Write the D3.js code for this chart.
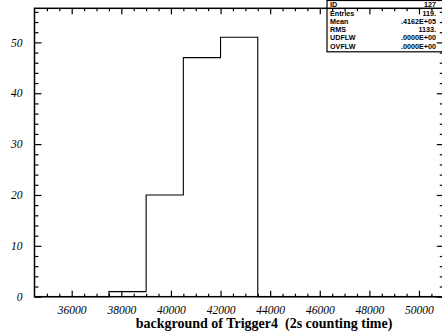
<!DOCTYPE html>
<html>
<head>
<meta charset="utf-8">
<script src="https://cdn.jsdelivr.net/npm/d3@7"></script>
<style>
  html, body { margin: 0; padding: 0; background: #fff; }
  svg { display: block; }
  text { fill: #000; -webkit-font-smoothing: antialiased; }
</style>
</head>
<body>
<svg id="chart" width="442" height="332"></svg>
<script>
// Histogram binning: 11 bins of width 1500 from 34500 to 51000
const binEdges = [34500, 36000, 37500, 39000, 40500, 42000, 43500, 45000, 46500, 48000, 49500, 51000];
const binCounts = [0, 0, 1, 20, 47, 51, 0, 0, 0, 0, 0];

const xTickValues = [36000, 38000, 40000, 42000, 44000, 46000, 48000, 50000];
const yTickValues = [0, 10, 20, 30, 40, 50];

const statLabels = ["ID", "Entries", "Mean", "RMS", "UDFLW", "OVFLW"];
const statValues = ["127", "119.", ".4162E+05", "1133.", ".0000E+00", ".0000E+00"];

const xTitle = "background of Trigger4  (2s counting time)";

const svg = d3.select("#chart");
const frameL = 34.5, frameR = 443.8, frameT = 8.3, frameB = 296.7;

const x = d3.scaleLinear().domain([34500, 51000]).range([frameL, frameR]);
const y = d3.scaleLinear().domain([0, 56.7]).range([frameB, frameT]);

const serif = "'Liberation Serif', 'Times New Roman', serif";

// Minor ticks every 500 on x, every 2 on y
const xMinor = d3.range(35000, 51000, 500).filter(v => v % 2000 !== 0);
const yMinor = d3.range(2, 57, 2).filter(v => v % 10 !== 0);

function drawAxis(axis, transform) {
  const g = svg.append("g").attr("transform", transform).call(axis);
  g.select(".domain").remove();
  g.selectAll("line").attr("stroke", "#000").attr("stroke-width", 1.2);
  return g;
}

// bottom axis (ticks point inward)
drawAxis(d3.axisBottom(x).tickValues(xTickValues).tickSize(-6).tickFormat(d => d),
         `translate(0,${frameB})`)
  .selectAll("text")
  .attr("y", 9)
  .attr("dy", "0.71em")
  .style("font-family", serif).style("font-style", "italic").style("font-size", "11.5px").attr("fill", "#000");
drawAxis(d3.axisBottom(x).tickValues(xMinor).tickSize(-3).tickFormat(""), `translate(0,${frameB})`);

// top axis
drawAxis(d3.axisTop(x).tickValues(xTickValues).tickSize(-6).tickFormat(""), `translate(0,${frameT})`);
drawAxis(d3.axisTop(x).tickValues(xMinor).tickSize(-3).tickFormat(""), `translate(0,${frameT})`);

// left axis
drawAxis(d3.axisLeft(y).tickValues(yTickValues).tickSize(-7).tickFormat(d => d),
         `translate(${frameL},0)`)
  .selectAll("text")
  .attr("x", -12)
  .style("font-family", serif).style("font-style", "italic").style("font-size", "11.5px").attr("fill", "#000");
drawAxis(d3.axisLeft(y).tickValues(yMinor).tickSize(-4).tickFormat(""), `translate(${frameL},0)`);

// right axis
drawAxis(d3.axisRight(y).tickValues(yTickValues).tickSize(-7).tickFormat(""), `translate(${frameR},0)`);
drawAxis(d3.axisRight(y).tickValues(yMinor).tickSize(-4).tickFormat(""), `translate(${frameR},0)`);

// frame
svg.append("rect")
  .attr("x", frameL).attr("y", frameT)
  .attr("width", frameR - frameL).attr("height", frameB - frameT)
  .attr("fill", "none").attr("stroke", "#000").attr("stroke-width", 1.5);

// histogram outline as a step contour over all bins
const stepPts = [];
binCounts.forEach((c, i) => {
  stepPts.push([binEdges[i], c]);
  stepPts.push([binEdges[i + 1], c]);
});
const line = d3.line().x(d => x(d[0])).y(d => y(d[1]));
svg.append("path")
  .attr("d", line(stepPts))
  .attr("fill", "none").attr("stroke", "#000").attr("stroke-width", 1.1);

// x-axis title (double space kept)
svg.append("text")
  .attr("x", 264).attr("y", 328)
  .attr("text-anchor", "middle")
  .attr("xml:space", "preserve")
  .style("white-space", "pre")
  .style("font-family", serif).style("font-weight", "bold").style("font-size", "14px")
  .text(xTitle);

// statistics box
const boxL = 327, boxT = 0.5, rowH = 8.3;
svg.append("rect")
  .attr("x", boxL).attr("y", boxT)
  .attr("width", 450 - boxL).attr("height", rowH * statLabels.length + 1.5)
  .attr("fill", "none").attr("stroke", "#000").attr("stroke-width", 1.2);
const sans = "'Liberation Sans', Arial, sans-serif";
const rows = svg.append("g")
  .style("font-family", sans).style("font-size", "7.2px").style("font-weight", "bold");
rows.selectAll("text.lab").data(statLabels).join("text")
  .attr("class", "lab")
  .attr("fill", "#000")
  .attr("x", boxL + 3).attr("y", (d, i) => boxT + rowH * (i + 1) - 1.6)
  .text(d => d);
rows.selectAll("text.val").data(statValues).join("text")
  .attr("class", "val")
  .attr("fill", "#000")
  .attr("x", 436).attr("text-anchor", "end")
  .attr("y", (d, i) => boxT + rowH * (i + 1) - 1.6)
  .text(d => d);
</script>
</body>
</html>
